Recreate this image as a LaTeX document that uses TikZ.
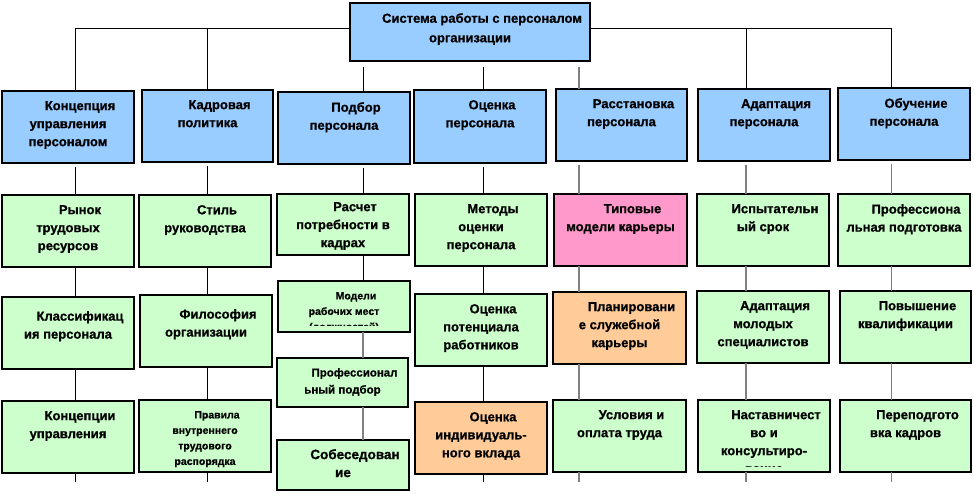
\documentclass[tikz,border=0pt]{standalone}
\usepackage{fontspec}
\setmainfont{Liberation Sans}[BoldFeatures={FakeBold=0.8}]
\usetikzlibrary{fit}
\definecolor{cblue}{HTML}{99CCFF}
\definecolor{cgreen}{HTML}{CCFFCC}
\definecolor{cpink}{HTML}{FF99CC}
\definecolor{corange}{HTML}{FFCC99}
\definecolor{cgray}{HTML}{808080}
\tikzset{
  box/.style={draw=black, line width=1.1pt, inner sep=0pt, outer sep=0pt},
  txt/.style={anchor=north, align=center, inner sep=0pt, font=\fontsize{13}{18}\selectfont\bfseries},
  smalltxt/.style={txt, font=\fontsize{10.5}{15.5}\selectfont\bfseries},
  midtxt/.style={txt, font=\fontsize{11.5}{17}\selectfont\bfseries},
  bigtxt/.style={txt, font=\fontsize{13.5}{18}\selectfont\bfseries},
  conn/.style={draw=black, line width=0.8pt},
  gconn/.style={draw=cgray, line width=1.5pt},
}
\newcommand{\ind}{\hspace*{24pt}}
\begin{document}
\begin{tikzpicture}[x=1pt,y=-1pt]
\useasboundingbox (0,0) rectangle (974,493);

% top box
\node (top) [box, fill=cblue, fit={(350,3) (590,61)}] {};
\node (topt) [txt, font=\fontsize{13}{19.5}\selectfont\bfseries] at ([yshift=-10pt]top.north) {\ind Система работы с персоналом\\организации};

% row 1 (blue)
\node (b1) [box, fill=cblue, fit={(2,91) (134,163)}] {};
\node (b2) [box, fill=cblue, fit={(142,90) (273,162)}] {};
\node (b3) [box, fill=cblue, fit={(278,92) (410,164)}] {};
\node (b4) [box, fill=cblue, fit={(414,90) (546,163)}] {};
\node (b5) [box, fill=cblue, fit={(556,89) (687,161)}] {};
\node (b6) [box, fill=cblue, fit={(698,89) (830,161)}] {};
\node (b7) [box, fill=cblue, fit={(838,88) (970,160)}] {};
\node (b1t) [txt] at ([yshift=-10pt]b1.north) {\ind Концепция\\управления\\персоналом};
\node (b2t) [txt] at ([yshift=-10pt]b2.north) {\ind Кадровая\\политика};
\node (b3t) [txt] at ([yshift=-10pt]b3.north) {\ind Подбор\\персонала};
\node (b4t) [txt] at ([yshift=-10pt]b4.north) {\ind Оценка\\персонала};
\node (b5t) [txt] at ([yshift=-10pt]b5.north) {\ind Расстановка\\персонала};
\node (b6t) [txt] at ([yshift=-10pt]b6.north) {\ind Адаптация\\персонала};
\node (b7t) [txt] at ([yshift=-10pt]b7.north) {\ind Обучение\\персонала};

% row 2
\node (r1a) [box, fill=cgreen, fit={(2,195) (134,267)}] {};
\node (r2a) [box, fill=cgreen, fit={(139,195) (271,267)}] {};
\node (r3a) [box, fill=cgreen, fit={(277,194) (409,255)}] {};
\node (r4a) [box, fill=cgreen, fit={(415,194) (547,266)}] {};
\node (r5a) [box, fill=cpink, fit={(554,194) (687,266)}] {};
\node (r6a) [box, fill=cgreen, fit={(697,194) (829,266)}] {};
\node (r7a) [box, fill=cgreen, fit={(838,194) (970,266)}] {};
\node (r1at) [txt] at ([yshift=-10pt]r1a.north) {\ind Рынок\\трудовых\\ресурсов};
\node (r2at) [txt] at ([yshift=-10pt]r2a.north) {\ind Стиль\\руководства};
\node (r3at) [txt] at ([yshift=-8pt]r3a.north) {\ind Расчет\\потребности в\\кадрах};
\node (r4at) [txt] at ([yshift=-10pt]r4a.north) {\ind Методы\\оценки\\персонала};
\node (r5at) [txt] at ([yshift=-10pt]r5a.north) {\ind Типовые\\модели карьеры};
\node (r6at) [txt] at ([yshift=-10pt]r6a.north) {\ind Испытательн\\ый срок};
\node (r7at) [txt] at ([yshift=-10pt]r7a.north) {\ind Профессиона\\льная подготовка};

% row 3
\node (r1b) [box, fill=cgreen, fit={(2,297) (134,369)}] {};
\node (r2b) [box, fill=cgreen, fit={(140,295) (272,367)}] {};
\node (r3b) [box, fill=cgreen, fit={(278,281) (410,332)}] {};
\node (r3c) [box, fill=cgreen, fit={(277,358) (408,407)}] {};
\node (r4b) [box, fill=cgreen, fit={(415,294) (547,366)}] {};
\node (r5b) [box, fill=corange, fit={(553,292) (686,364)}] {};
\node (r6b) [box, fill=cgreen, fit={(697,291) (829,363)}] {};
\node (r7b) [box, fill=cgreen, fit={(840,291) (971,363)}] {};
\node (r1bt) [txt] at ([yshift=-14pt]r1b.north) {\ind Классификац\\ия персонала};
\node (r2bt) [txt] at ([yshift=-14pt]r2b.north) {\ind Философия\\организации};
\begin{scope}
  \clip ([yshift=7pt]r3b.south west) rectangle (r3b.north east);
  \node (r3bt) [smalltxt] at ([yshift=-11pt]r3b.north) {\ind Модели\\рабочих мест\\(должностей)};
\end{scope}
\node (r3ct) [midtxt] at ([yshift=-10pt]r3c.north) {\ind Профессионал\\ьный подбор};
\node (r4bt) [txt] at ([yshift=-10pt]r4b.north) {\ind Оценка\\потенциала\\работников};
\node (r5bt) [txt] at ([yshift=-10pt]r5b.north) {\ind Планировани\\е служебной\\карьеры};
\node (r6bt) [txt] at ([yshift=-10pt]r6b.north) {\ind Адаптация\\молодых\\специалистов};
\node (r7bt) [txt] at ([yshift=-10pt]r7b.north) {\ind Повышение\\квалификации};

% row 4
\node (r1c) [box, fill=cgreen, fit={(2,401) (134,473)}] {};
\node (r2c) [box, fill=cgreen, fit={(139,400) (271,472)}] {};
\node (r3d) [box, fill=cgreen, fit={(277,440) (409,490)}] {};
\node (r4c) [box, fill=corange, fit={(415,402) (547,474)}] {};
\node (r5c) [box, fill=cgreen, fit={(553,400) (686,472)}] {};
\node (r6c) [box, fill=cgreen, fit={(698,400) (830,472)}] {};
\node (r7c) [box, fill=cgreen, fit={(840,400) (971,472)}] {};
\node (r1ct) [txt] at ([yshift=-10pt]r1c.north) {\ind Концепции\\управления};
\begin{scope}
  \clip ([yshift=4pt]r2c.south west) rectangle (r2c.north east);
  \node (r2ct) [smalltxt] at ([yshift=-11pt]r2c.north) {\ind Правила\\внутреннего\\трудового\\распорядка};
\end{scope}
\node (r3dt) [bigtxt] at ([yshift=-9pt]r3d.north) {\ind Собеседован\\ие};
\node (r4ct) [txt] at ([yshift=-10pt]r4c.north) {\ind Оценка\\индивидуаль-\\ного вклада};
\node (r5ct) [txt] at ([yshift=-10pt]r5c.north) {\ind Условия и\\оплата труда};
\begin{scope}
  \clip ([yshift=6pt]r6c.south west) rectangle (r6c.north east);
  \node (r6ct) [txt] at ([yshift=-10pt]r6c.north) {\ind Наставничест\\во и\\консультиро-\\вание};
\end{scope}
\node (r7ct) [txt] at ([yshift=-10pt]r7c.north) {\ind Переподгото\\вка кадров};

% connector coordinates
\coordinate (k1) at (75,28);
\coordinate (k2) at (207,28);
\coordinate (k3) at (363,28);
\coordinate (k4) at (483,28);
\coordinate (k5) at (579,28);
\coordinate (k6) at (746,28);
\coordinate (k7) at (891,28);
\coordinate (e1) at (75,482);
\coordinate (e2) at (207,482);
\coordinate (e4) at (483,482);
\coordinate (e5) at (579,482);
\coordinate (e6) at (746,482);
\coordinate (e7) at (891,482);

% bus
\draw[conn] (k1) -- (k1 -| top.west);
\draw[conn] (k7 -| top.east) -- (k7);
\draw[conn] (k1) -- (k1 |- b1.north);
\draw[conn] (k2) -- (k2 |- b2.north);
\draw[conn] (k6) -- (k6 |- b6.north);
\draw[conn] (k7) -- (k7 |- b7.north);
\draw[conn, shorten <=6pt] (top.south -| k3) -- (k3 |- b3.north);
\draw[conn, shorten <=6pt] (top.south -| k4) -- (k4 |- b4.north);
\draw[gconn, shorten <=6pt] (top.south -| k5) -- (k5 |- b5.north);

% column 1
\draw[conn, shorten <=4pt] (b1.south -| k1) -- (k1 |- r1a.north);
\draw[conn] (r1a.south -| k1) -- (k1 |- r1b.north);
\draw[conn] (r1b.south -| k1) -- (k1 |- r1c.north);
\draw[conn] (r1c.south -| k1) -- (e1);
% column 2
\draw[conn, shorten <=4pt] (b2.south -| k2) -- (k2 |- r2a.north);
\draw[conn] (r2a.south -| k2) -- (k2 |- r2b.north);
\draw[conn] (r2b.south -| k2) -- (k2 |- r2c.north);
\draw[conn] (r2c.south -| k2) -- (e2);
% column 3
\draw[conn, shorten <=4pt] (b3.south -| k3) -- (k3 |- r3a.north);
\draw[conn] (r3a.south -| k3) -- (k3 |- r3b.north);
\draw[gconn] (r3b.south -| k3) -- (k3 |- r3c.north);
\draw[gconn] (r3c.south -| k3) -- (k3 |- r3d.north);
% column 4
\draw[conn, shorten <=4pt] (b4.south -| k4) -- (k4 |- r4a.north);
\draw[conn] (r4a.south -| k4) -- (k4 |- r4b.north);
\draw[conn] (r4b.south -| k4) -- (k4 |- r4c.north);
\draw[conn] (r4c.south -| k4) -- (e4);
% column 5
\draw[gconn, shorten <=4pt] (b5.south -| k5) -- (k5 |- r5a.north);
\draw[gconn] (r5a.south -| k5) -- (k5 |- r5b.north);
\draw[gconn] (r5b.south -| k5) -- (k5 |- r5c.north);
\draw[gconn] (r5c.south -| k5) -- (e5);
% column 6
\draw[gconn, shorten <=4pt] (b6.south -| k6) -- (k6 |- r6a.north);
\draw[gconn] (r6a.south -| k6) -- (k6 |- r6b.north);
\draw[gconn] (r6b.south -| k6) -- (k6 |- r6c.north);
\draw[gconn] (r6c.south -| k6) -- (e6);
% column 7
\draw[conn, draw=cgray, shorten <=4pt] (b7.south -| k7) -- (k7 |- r7a.north);
\draw[conn, draw=cgray] (r7a.south -| k7) -- (k7 |- r7b.north);
\draw[conn, draw=cgray] (r7b.south -| k7) -- (k7 |- r7c.north);
\draw[conn, draw=cgray] (r7c.south -| k7) -- (e7);
\end{tikzpicture}
\end{document}
